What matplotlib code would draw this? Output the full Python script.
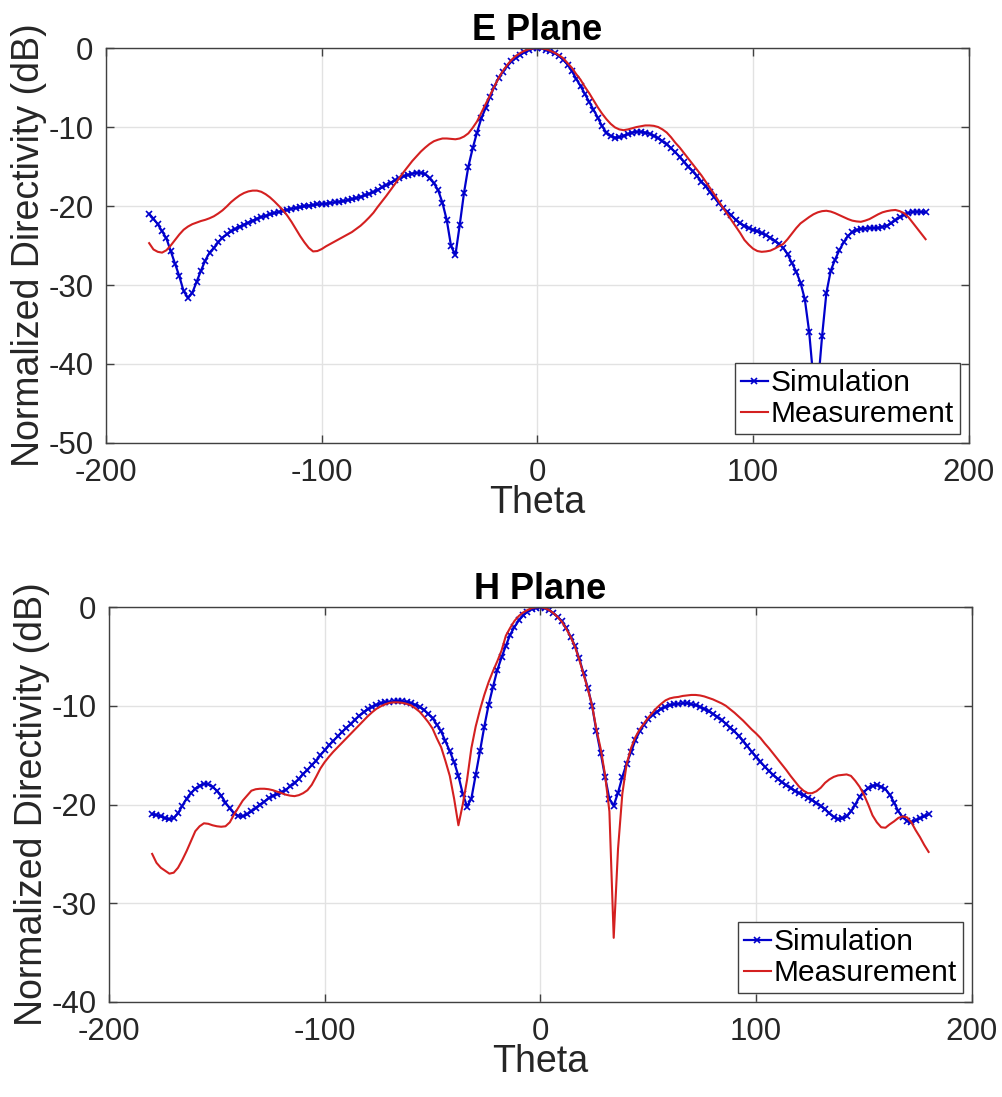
import matplotlib
matplotlib.use('Agg')
import matplotlib.pyplot as plt
import numpy as np

plt.rcParams['font.family'] = ['Liberation Sans', 'DejaVu Sans']
plt.rcParams['axes.unicode_minus'] = False

# angle grid, 2 degree steps
theta = np.arange(-180, 181, 2)

e_sim = [-21.0, -21.6, -22.3, -23.2, -24.1, -25.7, -27.3, -28.9, -30.8, -31.6,
         -31.0, -29.6, -28.2, -26.9, -25.9, -25.3, -24.6, -24.0, -23.6, -23.2,
         -22.9, -22.6, -22.35, -22.1, -21.85, -21.6, -21.4, -21.25, -21.05, -20.9,
         -20.75, -20.6, -20.5, -20.35, -20.25, -20.15, -20.05, -19.95, -19.9, -19.8,
         -19.75, -19.7, -19.6, -19.55, -19.45, -19.4, -19.25, -19.15, -19.0, -18.85,
         -18.65, -18.45, -18.25, -17.95, -17.65, -17.35, -17.05, -16.75, -16.5, -16.25,
         -16.05, -15.9, -15.8, -15.8, -15.95, -16.5, -17.1, -18.0, -19.6, -21.8,
         -25.1, -26.2, -22.4, -18.3, -15.0, -12.7, -10.7, -8.9, -7.6, -6.2,
         -4.9, -3.8, -3.0, -2.3, -1.7, -1.2, -0.85, -0.55, -0.25, -0.05,
         0.0, -0.05, -0.2, -0.4, -0.65, -1.0, -1.45, -2.1, -2.9, -3.9,
         -4.8, -5.8, -6.8, -7.8, -8.8, -9.9, -10.7, -11.15, -11.35, -11.3,
         -11.1, -10.9, -10.7, -10.6, -10.6, -10.7, -10.85, -11.1, -11.4, -11.8,
         -12.2, -12.7, -13.2, -13.8, -14.4, -15.0, -15.6, -16.2, -16.9, -17.5,
         -18.2, -18.9, -19.6, -20.2, -20.7, -21.2, -21.75, -22.2, -22.5, -22.8,
         -23.0, -23.2, -23.45, -23.7, -24.0, -24.4, -24.8, -25.3, -26.1, -27.2,
         -28.3, -29.7, -31.8, -35.9, -42.0, -43.0, -36.5, -31.0, -28.2, -26.8,
         -25.6, -24.6, -23.8, -23.3, -23.05, -22.9, -22.85, -22.8, -22.8, -22.75,
         -22.65, -22.5, -22.2, -21.8, -21.4, -21.1, -20.9, -20.75, -20.7, -20.75,
         -20.8]

e_meas = [-24.7, -25.5, -25.8, -25.9, -25.6, -25.0, -24.3, -23.6, -23.0, -22.6,
          -22.3, -22.1, -21.9, -21.75, -21.55, -21.3, -20.95, -20.55, -20.05, -19.5,
          -19.05, -18.65, -18.35, -18.15, -18.05, -18.05, -18.2, -18.5, -18.9, -19.4,
          -19.95, -20.5, -21.2, -22.0, -22.9, -23.8, -24.6, -25.3, -25.75, -25.7,
          -25.45, -25.1, -24.8, -24.5, -24.2, -23.9, -23.6, -23.3, -22.9, -22.5,
          -22.0, -21.45, -20.85, -20.1, -19.4, -18.7, -17.95, -17.2, -16.45, -15.7,
          -15.0, -14.3, -13.7, -13.1, -12.6, -12.15, -11.8, -11.6, -11.45, -11.45,
          -11.5, -11.55, -11.45, -11.2, -10.8, -10.1, -9.3, -8.2, -7.1, -6.0,
          -4.9, -3.8, -2.9, -2.15, -1.5, -1.0, -0.65, -0.35, -0.15, -0.05,
          0.0, -0.05, -0.15, -0.35, -0.6, -0.9, -1.3, -1.9, -2.5, -3.3,
          -4.0, -4.9, -5.7, -6.6, -7.5, -8.3, -9.0, -9.6, -10.05, -10.3,
          -10.4, -10.3, -10.15, -10.0, -9.9, -9.8, -9.8, -9.85, -10.0, -10.3,
          -10.7, -11.3, -12.0, -12.6, -13.3, -14.0, -14.7, -15.4, -16.1, -16.9,
          -17.7, -18.5, -19.35, -20.2, -21.0, -21.8, -22.6, -23.4, -24.3, -24.9,
          -25.4, -25.7, -25.8, -25.75, -25.65, -25.4, -25.1, -24.8, -24.2, -23.5,
          -22.8, -22.2, -21.8, -21.4, -21.05, -20.8, -20.65, -20.6, -20.7, -20.9,
          -21.15, -21.4, -21.65, -21.85, -21.95, -22.0, -21.85, -21.65, -21.35, -21.05,
          -20.8, -20.65, -20.55, -20.5, -20.65, -20.9, -21.4, -22.1, -22.8, -23.5,
          -24.2]

h_sim = [-21.0, -21.05, -21.2, -21.4, -21.5, -21.35, -20.9, -20.1, -19.4, -18.85,
         -18.4, -18.1, -17.9, -17.95, -18.2, -18.6, -19.1, -19.8, -20.4, -20.9,
         -21.15, -21.2, -21.0, -20.7, -20.35, -20.0, -19.7, -19.35, -19.1, -18.95,
         -18.75, -18.5, -18.15, -17.8, -17.4, -16.9, -16.5, -16.0, -15.55, -15.0,
         -14.5, -14.0, -13.55, -13.1, -12.65, -12.25, -11.85, -11.4, -11.0, -10.65,
         -10.35, -10.1, -9.9, -9.75, -9.65, -9.6, -9.55, -9.5, -9.55, -9.6,
         -9.75, -9.9, -10.1, -10.4, -10.8, -11.25, -11.9, -12.6, -13.6, -14.6,
         -15.7, -17.1, -18.9, -20.2, -19.4, -17.0, -14.6, -12.1, -9.9, -8.1,
         -6.4, -5.1, -3.9, -2.8, -2.0, -1.35, -0.85, -0.45, -0.2, -0.05,
         0.0, -0.1, -0.3, -0.6, -1.0, -1.45, -2.1, -3.0, -3.9, -5.2,
         -6.7, -8.2, -10.0, -12.6, -14.8, -17.2, -19.45, -20.1, -18.8, -17.2,
         -15.85, -14.7, -13.5, -12.6, -11.9, -11.35, -10.9, -10.6, -10.3, -10.1,
         -9.95, -9.85, -9.8, -9.75, -9.75, -9.85, -9.95, -10.1, -10.3, -10.55,
         -10.8, -11.1, -11.45, -11.8, -12.2, -12.6, -13.05, -13.55, -14.1, -14.65,
         -15.15, -15.65, -16.15, -16.6, -17.0, -17.4, -17.75, -18.05, -18.35, -18.6,
         -18.85, -19.05, -19.3, -19.55, -19.85, -20.15, -20.5, -20.9, -21.25, -21.5,
         -21.4, -21.2, -20.7, -20.0, -19.2, -18.7, -18.35, -18.1, -18.0, -18.2,
         -18.45, -19.0, -19.8, -20.7, -21.3, -21.65, -21.8, -21.6, -21.4, -21.2,
         -21.0]

h_meas = [-25.0, -25.9, -26.4, -26.7, -27.0, -26.9, -26.4, -25.6, -24.7, -23.7,
          -22.7, -22.2, -21.9, -21.95, -22.1, -22.2, -22.25, -22.2, -21.8, -21.0,
          -20.3, -19.6, -19.1, -18.6, -18.45, -18.4, -18.4, -18.45, -18.55, -18.7,
          -18.85, -19.0, -19.1, -19.15, -19.05, -18.85, -18.55, -18.0, -17.2, -16.35,
          -15.7, -15.15, -14.65, -14.2, -13.75, -13.3, -12.85, -12.4, -11.95, -11.5,
          -11.05, -10.65, -10.3, -10.05, -9.85, -9.7, -9.65, -9.65, -9.7, -9.8,
          -9.95, -10.25, -10.6, -11.1, -11.65, -12.3, -13.3, -14.2, -15.6, -17.1,
          -19.4, -22.1, -20.0, -17.5, -14.3, -12.1, -10.4, -8.9, -7.6, -6.5,
          -5.5, -4.4, -2.9, -2.1, -1.4, -0.9, -0.55, -0.3, -0.1, -0.02,
          0.0, -0.1, -0.3, -0.6, -1.0, -1.5, -2.2, -3.0, -4.0, -5.3,
          -6.8, -8.3, -10.0, -12.4, -14.4, -17.0, -20.7, -33.5, -24.5, -18.9,
          -15.9, -14.3, -13.2, -12.4, -11.8, -11.2, -10.7, -10.2, -9.8, -9.45,
          -9.25, -9.15, -9.1, -9.0, -8.95, -8.9, -8.9, -8.95, -9.05, -9.2,
          -9.35, -9.55, -9.75, -10.0, -10.35, -10.7, -11.1, -11.5, -11.95, -12.4,
          -12.8, -13.25, -13.8, -14.3, -14.85, -15.4, -15.95, -16.5, -17.1, -17.65,
          -18.2, -18.6, -18.85, -18.85, -18.65, -18.3, -17.8, -17.45, -17.2, -17.05,
          -17.0, -16.95, -17.1, -17.6, -18.2, -19.0, -20.0, -21.1, -21.8, -22.3,
          -22.35, -22.0, -21.7, -21.35, -21.2, -21.3, -21.8, -22.6, -23.3, -24.1,
          -24.8]

titles = ['E Plane', 'H Plane']
ylims = [(-50, 0), (-40, 0)]
sims = [e_sim, h_sim]
meas = [e_meas, h_meas]

fig = plt.figure(figsize=(10.02, 10.97), dpi=100)
boxes = [[0.1058, 0.5962, 0.861, 0.360], [0.1088, 0.0866, 0.861, 0.360]]

for i in range(2):
    ax = fig.add_axes(boxes[i])
    ax.plot(theta, sims[i], '-x', color='#0000cc', lw=1.6, ms=5, mew=1.2, label='Simulation')
    ax.plot(theta, meas[i], '-', color='#d42020', lw=1.5, label='Measurement')
    ax.set_xlim(-200, 200)
    ax.set_ylim(*ylims[i])
    ax.set_xticks([-200, -100, 0, 100, 200])
    ax.set_yticks(np.arange(ylims[i][0], 1, 10))
    ax.grid(True, color='#e2e2e2', lw=1)
    ax.set_axisbelow(True)
    ax.tick_params(direction='in', top=True, right=True, length=6, width=1,
                   color='#404040', labelsize=22.5, labelcolor='#262626')
    ax.tick_params(axis='x', pad=11)
    ax.tick_params(axis='y', pad=9)
    for s in ax.spines.values():
        s.set_color('#404040')
        s.set_linewidth(1)
    ax.set_title(titles[i], fontsize=26, fontweight='bold', pad=6)
    ax.set_xlabel('Theta', fontsize=27, labelpad=-2, color='#262626')
    ax.set_ylabel('Normalized Directivity (dB)', fontsize=27, labelpad=1, color='#262626')
    leg = ax.legend(loc='lower right', fontsize=21.5, fancybox=False, framealpha=1,
                    edgecolor='#404040', handlelength=0.9, handletextpad=0.1,
                    borderpad=0.2, labelspacing=0.1, borderaxespad=0.3)
    leg.get_frame().set_linewidth(1)

fig.savefig('out.png', dpi=100)
